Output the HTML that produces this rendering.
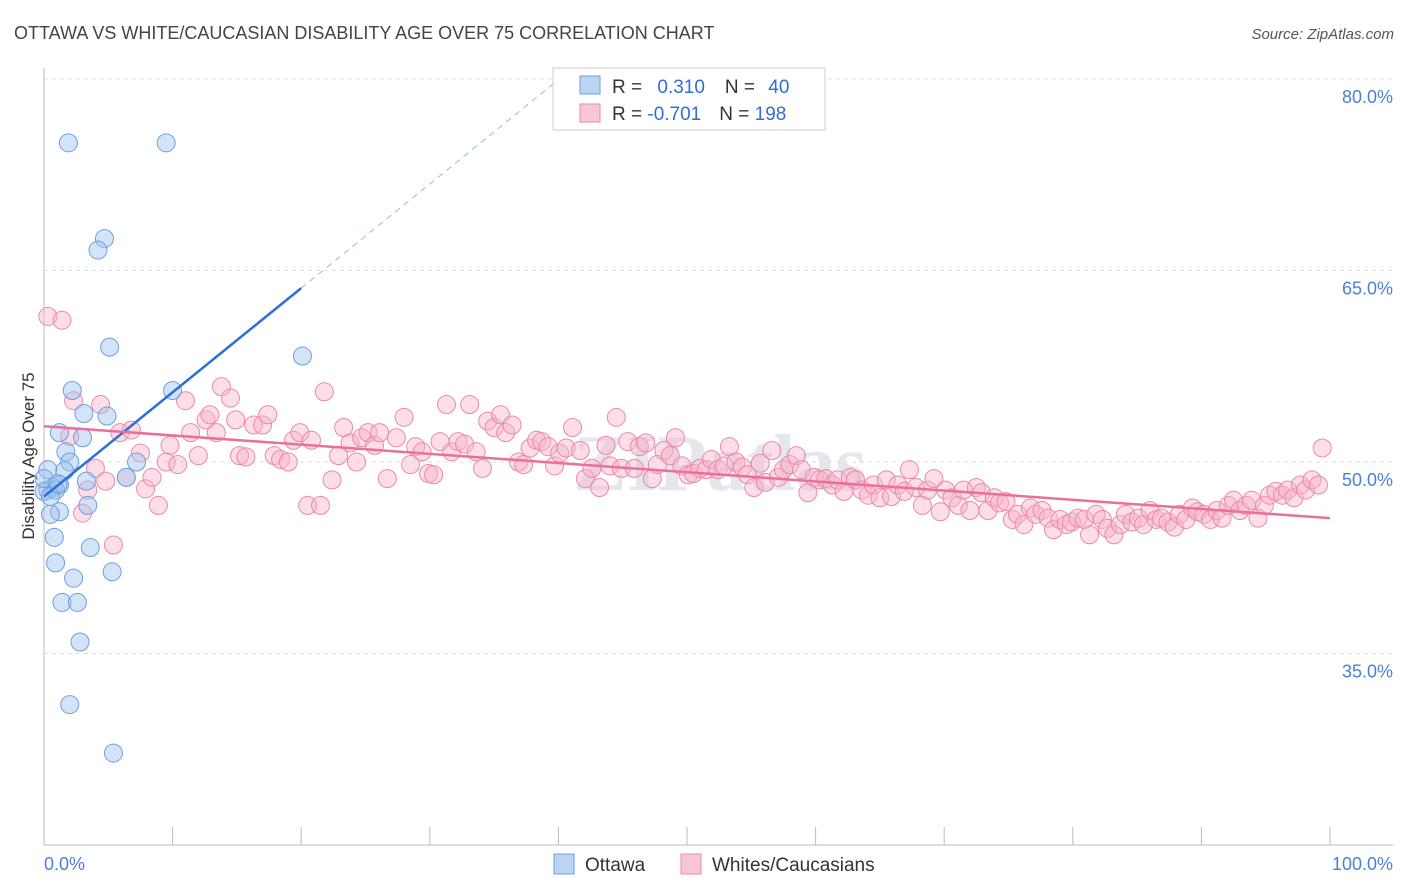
<!DOCTYPE html>
<html><head><meta charset="utf-8"><style>
body{margin:0;background:#fff;font-family:"Liberation Sans",sans-serif;}
svg{display:block}
</style></head><body>
<svg id="chart" width="1406" height="892" xmlns="http://www.w3.org/2000/svg">
<text x="14" y="39" font-size="18" fill="#444">OTTAWA VS WHITE/CAUCASIAN DISABILITY AGE OVER 75 CORRELATION CHART</text>
<text x="1394" y="39" font-size="15" fill="#555" text-anchor="end" font-style="italic">Source: ZipAtlas.com</text>
<text transform="translate(34,456) rotate(-90)" font-size="17" fill="#333" text-anchor="middle">Disability Age Over 75</text>
<text x="720" y="490" font-size="80" fill="#e6e6ee" text-anchor="middle" font-weight="bold" font-family="Liberation Serif, serif">ZIPatlas</text>
<g id="grid"></g><g id="axes"></g><g id="pts"></g><g id="lines"></g>
<g>
<rect x="553" y="68" width="272" height="62" fill="#fff" stroke="#ccc"/>
<rect x="580" y="76" width="20" height="18" fill="#bcd4f4" stroke="#6d9fdf"/>
<rect x="580" y="104" width="20" height="18" fill="#f9c6d6" stroke="#e98aa9"/>
<text x="612" y="93" font-size="19" fill="#333">R = <tspan fill="#2f6ed6" dx="10">0.310</tspan><tspan dx="20" fill="#333">N = </tspan><tspan fill="#2f6ed6" dx="8">40</tspan></text>
<text x="612" y="120" font-size="19" fill="#333">R = <tspan fill="#2f6ed6">-0.701</tspan><tspan dx="18" fill="#333">N = </tspan><tspan fill="#2f6ed6">198</tspan></text>
</g>
<g>
<rect x="554" y="854" width="20" height="20" fill="#bcd4f4" stroke="#6d9fdf"/>
<text x="585" y="871" font-size="19" fill="#333">Ottawa</text>
<rect x="681" y="854" width="20" height="20" fill="#f9c6d6" stroke="#e98aa9"/>
<text x="712" y="871" font-size="19" fill="#333">Whites/Caucasians</text>
</g>
</svg>
<script>
const blueX=[1.9,9.5,4.7,4.2,5.1,20.1,2.2,10.0,3.1,4.9,1.2,3.0,1.7,2.0,7.2,1.6,0.3,6.4,3.3,1.2,0.7,0.3,0.0,0.9,3.4,1.2,0.5,0.8,3.6,0.9,5.3,2.3,1.4,2.6,2.8,2.0,5.4,0.0,0.5,1.1];
const blueY=[75.0,75.0,67.5,66.6,59.0,58.3,55.6,55.6,53.8,53.6,52.3,51.9,50.8,50.0,50.0,49.3,49.4,48.8,48.5,48.2,48.0,47.8,47.7,47.8,46.6,46.1,45.9,44.1,43.3,42.1,41.4,40.9,39.0,39.0,35.9,31.0,27.2,48.7,47.3,48.3];
const pinkX=[0.3,1.4,2.0,2.3,4.0,4.4,3.0,3.4,4.8,5.4,5.9,6.8,6.4,7.5,7.9,8.4,8.9,9.5,9.8,10.4,11.0,11.4,12.0,12.6,12.9,13.4,13.8,14.5,14.9,15.2,15.7,16.3,17.0,17.4,17.9,18.4,19.0,19.4,19.9,20.5,20.8,21.5,21.8,22.4,22.9,23.3,23.8,24.3,24.7,25.2,25.7,26.1,26.7,27.4,28.0,28.5,28.9,29.4,29.9,30.3,30.8,31.3,31.7,32.2,32.7,33.1,33.6,34.1,34.5,35.0,35.5,35.9,36.4,36.9,37.3,37.8,38.3,38.7,39.2,39.7,40.1,40.6,41.1,41.7,42.1,42.6,43.2,43.7,44.0,44.5,44.9,45.4,45.9,46.3,46.8,47.3,47.7,48.2,48.7,49.1,49.6,50.1,50.5,51.0,51.5,51.9,52.4,52.9,53.3,53.8,54.3,54.7,55.2,55.7,56.1,56.6,57.1,57.5,58.0,58.5,58.9,59.4,59.9,60.3,60.8,61.3,61.7,62.2,62.7,63.1,63.6,64.1,64.5,65.0,65.5,65.9,66.4,66.9,67.3,67.8,68.3,68.7,69.2,69.7,70.1,70.6,71.1,71.5,72.0,72.5,72.9,73.4,73.9,74.3,74.8,75.3,75.7,76.2,76.7,77.1,77.6,78.1,78.5,79.0,79.5,79.9,80.4,80.9,81.3,81.8,82.3,82.7,83.2,83.7,84.1,84.6,85.1,85.5,86.0,86.5,86.9,87.4,87.9,88.3,88.8,89.3,89.7,90.2,90.7,91.2,91.6,92.1,92.5,93.0,93.5,93.9,94.4,94.9,95.3,95.8,96.3,96.7,97.2,97.7,98.1,98.6,99.1,99.4];
const pinkY=[61.4,61.1,52.0,54.8,49.5,54.5,46.0,47.8,48.5,43.5,52.3,52.5,48.8,50.7,47.9,48.8,46.6,50.0,51.3,49.8,54.8,52.3,50.5,53.3,53.7,52.3,55.9,55.0,53.3,50.5,50.4,52.9,52.9,53.7,50.5,50.2,50.0,51.7,52.3,46.6,51.7,46.6,55.5,48.6,50.5,52.7,51.5,50.0,51.9,52.3,51.3,52.3,48.7,51.9,53.5,49.8,51.2,50.8,49.1,49.0,51.6,54.5,50.8,51.6,51.4,54.5,50.8,49.5,53.2,52.7,53.7,52.3,52.9,50.0,49.8,51.1,51.7,51.6,51.2,49.7,50.7,51.1,52.7,50.9,48.7,49.5,48.0,51.3,49.7,53.5,49.5,51.6,49.5,51.2,51.5,48.7,49.8,50.9,50.5,51.9,49.7,49.0,49.1,49.5,49.4,50.2,49.4,49.7,51.2,50.0,49.6,49.0,48.0,49.9,48.4,50.9,48.8,49.4,49.8,50.5,49.4,47.6,48.8,48.6,48.7,48.2,48.6,47.7,48.8,48.6,47.8,47.4,48.2,47.2,48.6,47.3,48.2,47.7,49.4,48.0,46.6,47.8,48.7,46.1,47.8,47.2,46.6,47.8,46.2,48.0,47.6,46.2,47.2,46.8,46.9,45.5,45.9,45.1,46.4,45.9,46.2,45.6,44.7,45.5,45.1,45.3,45.6,45.5,44.3,45.9,45.5,44.8,44.3,45.1,45.9,45.3,45.6,45.1,46.2,45.5,45.6,45.3,44.9,45.9,45.5,46.4,46.1,45.9,45.5,46.2,45.6,46.6,47.0,46.2,46.6,47.0,45.6,46.6,47.4,47.7,47.4,47.8,47.2,48.2,47.8,48.6,48.2,51.1];
const yTicks=[80,65,50,35];
const xTickLabels=["0.0%","100.0%"];
const blueFit=[47.3,0.816];
const pinkFit=[52.8,-0.072];
const NS='http://www.w3.org/2000/svg';
const sx=v=>44+v*12.86;
const sy=v=>462-(v-50)*12.767;
function mk(tag,attrs,parent){const e=document.createElementNS(NS,tag);for(const k in attrs)e.setAttribute(k,attrs[k]);parent.appendChild(e);return e;}
const grid=document.getElementById('grid'),axes=document.getElementById('axes'),pts=document.getElementById('pts'),lines=document.getElementById('lines');
yTicks.forEach(t=>{
 const l=mk('line',{x1:44,x2:1393,y1:sy(t),y2:sy(t),stroke:'#ddd','stroke-dasharray':'4,4'},grid);
 
 
 const tx=mk('text',{x:1393,y:sy(t)+24,'font-size':18,fill:'#4a7fd6','text-anchor':'end'},grid);
 tx.textContent=t.toFixed(1)+'%';
 
 
});
const ax=mk('line',{x1:44,x2:44,y1:68,y2:845,stroke:'#bbb'},axes);


const bx=mk('line',{x1:44,x2:1393,y1:845,y2:845,stroke:'#bbb'},axes);


for(let i=0;i<=10;i++){const t=mk('line',{x1:sx(i*10),x2:sx(i*10),y1:827,y2:845,stroke:'#bbb'},axes);
 
 }
const l0=mk('text',{x:44,y:870,'font-size':18,fill:'#4a7fd6'},axes);l0.textContent=xTickLabels[0];


const l1=mk('text',{x:1393,y:870,'font-size':18,fill:'#4a7fd6','text-anchor':'end'},axes);l1.textContent=xTickLabels[1];


pinkX.forEach((x,i)=>{const c=mk('circle',{cx:sx(x),cy:sy(pinkY[i]),r:9,fill:'rgba(248,180,204,0.45)',stroke:'#e98aa9','stroke-width':1},pts);
 
 });
blueX.forEach((x,i)=>{const c=mk('circle',{cx:sx(x),cy:sy(blueY[i]),r:9,fill:'rgba(160,196,240,0.45)',stroke:'#6d9fdf','stroke-width':1},pts);
 
 });
const bxEnd=20, bxTop=(80.5-blueFit[0])/blueFit[1];
const bl=mk('line',{x1:sx(0),y1:sy(blueFit[0]),x2:sx(bxEnd),y2:sy(blueFit[0]+blueFit[1]*bxEnd),stroke:'#2a6fd8','stroke-width':2.5},lines);


const bd=mk('line',{x1:sx(bxEnd),y1:sy(blueFit[0]+blueFit[1]*bxEnd),x2:sx(bxTop),y2:sy(80.5),stroke:'#9bb8e0','stroke-width':1,'stroke-dasharray':'6,5'},lines);


const pl=mk('line',{x1:sx(0),y1:sy(pinkFit[0]),x2:sx(100),y2:sy(pinkFit[0]+pinkFit[1]*100),stroke:'#e8709a','stroke-width':2.5},lines);


</script>
</body></html>
